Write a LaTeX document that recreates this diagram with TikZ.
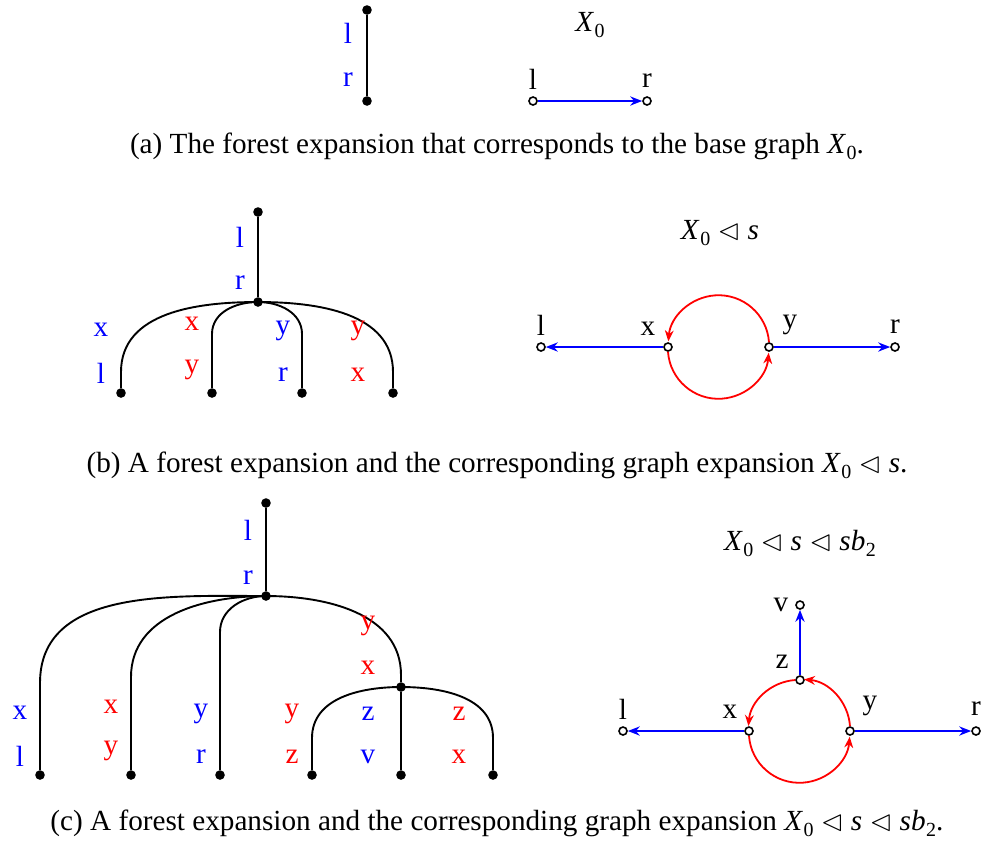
\documentclass[tikz,border=0pt]{standalone}
\usepackage{fontspec}
\usepackage{amssymb}
\setmainfont{Liberation Serif}
\usetikzlibrary{arrows.meta}
\newcommand{\Xz}{\textit{X}\kern0.3pt\raisebox{-0.45ex}{\fontsize{10}{11}\selectfont 0}}
\newcommand{\tri}{\ensuremath{\lhd}}
\begin{document}
\begin{tikzpicture}[x=0.5pt,y=-0.5pt,font=\fontsize{14.6}{16}\selectfont,
  dot/.style={circle,fill=black,inner sep=0pt,minimum size=4.8pt},
  vtx/.style={circle,draw=black,fill=white,inner sep=0pt,minimum size=4pt,line width=0.8pt},
  tedge/.style={line width=0.95pt},
  barrow/.style={blue,line width=0.9pt,-{Stealth[length=6pt,width=4.6pt]}},
  rarrow/.style={red,line width=0.9pt,-{Stealth[length=5.5pt,width=4.4pt]}},
  lb/.style={text=blue,inner sep=0pt},
  lr/.style={text=red,inner sep=0pt},
  lk/.style={inner sep=0pt}]
\useasboundingbox (0,0) rectangle (985,843);

% ---------- (a) ----------
\node[dot] (a1) at (367,10) {};
\node[dot] (a2) at (367,101) {};
\draw[tedge] (a1) -- (a2);
\node[lb] (a1l) at (348,33) {l};
\node[lb] (a1r) at (348,80) {r};
\node (aX) at (590,25) {\Xz};
\node[vtx] (al) at (533,101) {};
\node[vtx] (ar) at (647,101) {};
\draw[barrow] (al) -- (ar);
\node[lk] (allab) at (533,79) {l};
\node[lk] (arlab) at (647,81) {r};
\node (capa) at (497,146) {(a) The forest expansion that corresponds to the base graph \Xz.};

% ---------- (b) ----------
\node[dot] (b0) at (258,212) {};
\node[dot] (b1) at (258,302) {};
\draw[tedge] (b0) -- (b1);
\node[lb] (b0l) at (240,237) {l};
\node[lb] (b0r) at (240,283) {r};
\node[dot] (bL1) at (121,393) {};
\node[dot] (bL2) at (212,393) {};
\node[dot] (bL3) at (302,393) {};
\node[dot] (bL4) at (393,393) {};
\coordinate (bc1) at (121,372);
\coordinate (bc2) at (212,334);
\coordinate (bc3) at (302,334);
\coordinate (bc4) at (393,372);
\draw[tedge] (b1.center) to[out=180,in=90] (bc1) -- (bL1);
\draw[tedge] (b1.center) to[out=180,in=90] (bc2) -- (bL2);
\draw[tedge] (b1.center) to[out=0,in=90] (bc3) -- (bL3);
\draw[tedge] (b1.center) to[out=0,in=90] (bc4) -- (bL4);
\node[lb] (bt1) at (101,330) {x};
\node[lb] (bb1) at (101,373) {l};
\node[lr] (bt2) at (192,324) {x};
\node[lr] (bb2) at (192,370) {y};
\node[lb] (bt3) at (283,331) {y};
\node[lb] (bb3) at (283,375) {r};
\node[lr] (bt4) at (358,331) {y};
\node[lr] (bb4) at (358,375) {x};

\node (bX) at (720,233) {\Xz\ \tri\ \textit{s}};
\node[vtx] (bl) at (541,347) {};
\node[vtx] (bx) at (668,347) {};
\node[vtx] (by) at (769,347) {};
\node[vtx] (br) at (895,347) {};
\draw[barrow] (bx) -- (bl);
\draw[barrow] (by) -- (br);
\draw[rarrow] (by.north) arc[start angle=4,end angle=175,radius=25.25pt];
\draw[rarrow] (bx.south) arc[start angle=184,end angle=355,radius=25.25pt];
\node[lk] (bll) at (541,325) {l};
\node[lk] (bxl) at (648,329) {x};
\node[lk] (byl) at (790,325) {y};
\node[lk] (brl) at (895,327) {r};
\node (capb) at (497,465) {(b) A forest expansion and the corresponding graph expansion \Xz\ \tri\ \textit{s}.};

% ---------- (c) ----------
\node[dot] (c0) at (266,503) {};
\node[dot] (c1) at (266,596) {};
\draw[tedge] (c0) -- (c1);
\node[lb] (c0l) at (248,530) {l};
\node[lb] (c0r) at (248,578) {r};
\node[dot] (cs) at (401,687) {};
\node[dot] (cL1) at (40,775) {};
\node[dot] (cL2) at (131,775) {};
\node[dot] (cL3) at (220,775) {};
\node[dot] (cL4) at (312,775) {};
\node[dot] (cL5) at (401,775) {};
\node[dot] (cL6) at (493,775) {};
\coordinate (cc1) at (40,683);
\coordinate (cc2) at (131,677);
\coordinate (cc3) at (220,632);
\coordinate (ccs) at (401,675);
\coordinate (cc4) at (312,738);
\coordinate (cc6) at (493,738);
\draw[tedge] (c1.center) to[out=180,in=90] (cc1) -- (cL1);
\draw[tedge] (c1.center) to[out=180,in=90] (cc2) -- (cL2);
\draw[tedge] (c1.center) to[out=180,in=90] (cc3) -- (cL3);
\draw[tedge] (c1.center) to[out=0,in=90] (ccs) -- (cs);
\draw[tedge] (cs.center) to[out=180,in=90] (cc4) -- (cL4);
\draw[tedge] (cs) -- (cL5);
\draw[tedge] (cs.center) to[out=0,in=90] (cc6) -- (cL6);
\node[lr] (cst) at (368,626) {y};
\node[lr] (csb) at (368,668) {x};
\node[lb] (ct1) at (20,713) {x};
\node[lb] (cb1) at (20,756) {l};
\node[lr] (ct2) at (111,707) {x};
\node[lr] (cb2) at (111,751) {y};
\node[lb] (ct3) at (201,714) {y};
\node[lb] (cb3) at (201,757) {r};
\node[lr] (ct4) at (292,714) {y};
\node[lr] (cb4) at (292,757) {z};
\node[lb] (ct5) at (368,714) {z};
\node[lb] (cb5) at (368,757) {v};
\node[lr] (ct6) at (459,714) {z};
\node[lr] (cb6) at (459,757) {x};

\node (cX) at (800,543) {\Xz\ \tri\ \textit{s}\ \tri\ \textit{sb}\kern0.3pt\raisebox{-0.45ex}{\fontsize{10}{11}\selectfont 2}};
\node[vtx] (cv) at (800,605) {};
\node[vtx] (cz) at (800,680) {};
\node[vtx] (cl) at (623,731) {};
\node[vtx] (cx) at (749,731) {};
\node[vtx] (cy) at (850,731) {};
\node[vtx] (cr) at (976,731) {};
\draw[barrow] (cz) -- (cv);
\draw[barrow] (cx) -- (cl);
\draw[barrow] (cy) -- (cr);
\draw[rarrow] (cy.north) arc[start angle=4,end angle=85,radius=25.25pt];
\draw[rarrow] (cz.west) arc[start angle=94,end angle=175,radius=25.25pt];
\draw[rarrow] (cx.south) arc[start angle=184,end angle=355,radius=25.25pt];
\node[lk] (cvl) at (781,605) {v};
\node[lk] (czl) at (782,662) {z};
\node[lk] (cll) at (623,709) {l};
\node[lk] (cxl) at (730,712) {x};
\node[lk] (cyl) at (870,706) {y};
\node[lk] (crl) at (976,709) {r};
\node (capc) at (497,823) {(c) A forest expansion and the corresponding graph expansion \Xz\ \tri\ \textit{s}\ \tri\ \textit{sb}\kern0.3pt\raisebox{-0.45ex}{\fontsize{10}{11}\selectfont 2}.};
\end{tikzpicture}
\end{document}
